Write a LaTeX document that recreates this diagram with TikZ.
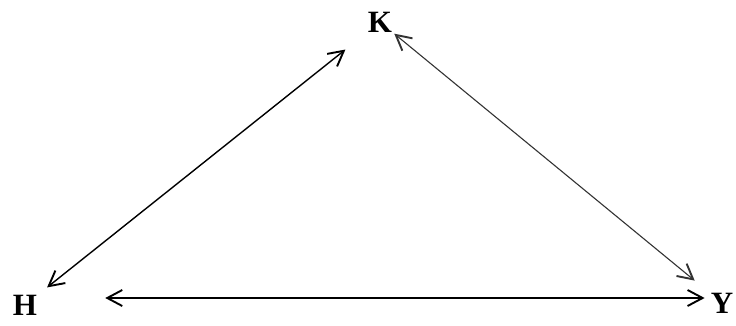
\documentclass[tikz,border=0pt]{standalone}
\usepackage{fontspec}
\setmainfont{Liberation Serif}
\usetikzlibrary{arrows.meta}
\tikzset{
  lettre/.style={font=\fontsize{31}{34}\selectfont\bfseries, inner sep=2pt},
  flecha/.style={line width=1.4pt, {Straight Barb[length=15pt, width=16pt, line width=1.9pt]}-{Straight Barb[length=15pt, width=16pt, line width=1.9pt]}},
}
\begin{document}
\begin{tikzpicture}[x=1pt, y=-1pt]
    \useasboundingbox (0,0) rectangle (736,325);

    % os tres vertices
    \node[lettre] (K) at (380,22) {K};
    \node[lettre] (H) at (25,305) {H};
    \node[lettre] (Y) at (722,303) {Y};

    \draw[flecha, shorten <=10pt, shorten >=26pt] (H) -- (K);
    \draw[flecha, black!80, line width=1.1pt, shorten <=0pt, shorten >=18pt] (K) -- (Y);
    \draw[flecha, shorten <=66pt, shorten >=4pt] ([yshift=7pt]H.east) -- ([yshift=5pt]Y.west);

\end{tikzpicture}
\end{document}
